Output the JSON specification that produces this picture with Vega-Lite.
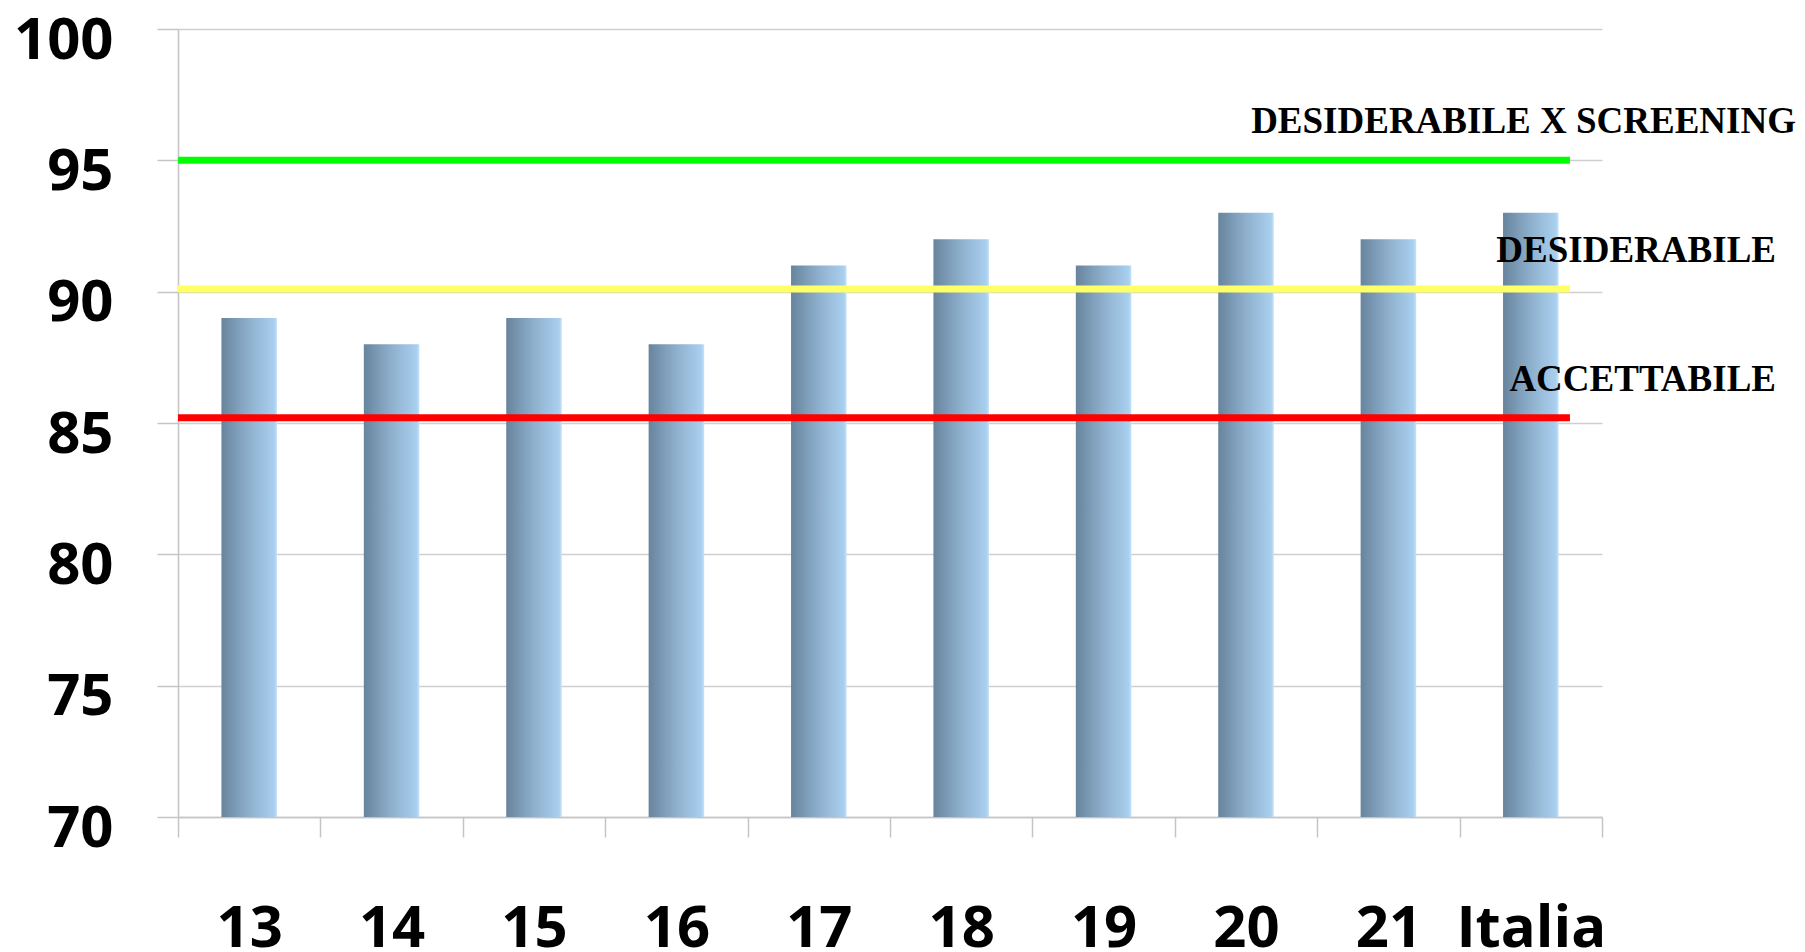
{
  "$schema": "https://vega.github.io/schema/vega-lite/v6.json",
  "autosize": {"type": "none"},
  "width": 1424,
  "height": 788,
  "padding": {"left": 178, "top": 29, "right": 203, "bottom": 135},
  "background": "white",
  "config": {"view": {"stroke": null}},
  "datasets": {
    "bars": [
      {"cat": "13", "value": 89},
      {"cat": "14", "value": 88},
      {"cat": "15", "value": 89},
      {"cat": "16", "value": 88},
      {"cat": "17", "value": 91},
      {"cat": "18", "value": 92},
      {"cat": "19", "value": 91},
      {"cat": "20", "value": 93},
      {"cat": "21", "value": 92},
      {"cat": "Italia", "value": 93}
    ],
    "thresholds": [
      {"label": "DESIDERABILE X SCREENING", "value": 95, "color": "green"},
      {"label": "DESIDERABILE", "value": 90.1, "color": "yellow"},
      {"label": "ACCETTABILE", "value": 85.2, "color": "red"}
    ]
  },
  "layer": [
    {
      "data": {"name": "bars"},
      "mark": {
        "type": "bar",
        "width": {"band": 0.39},
        "color": {
          "gradient": "linear",
          "x1": 0, "y1": 0, "x2": 1, "y2": 0,
          "stops": [
            {"offset": 0, "color": "#68849d"},
            {"offset": 0.5, "color": "#8eb0cd"},
            {"offset": 0.95, "color": "#a9cfef"},
            {"offset": 1, "color": "#c6e3f8"}
          ]
        }
      },
      "encoding": {
        "x": {
          "field": "cat", "type": "nominal", "sort": null,
          "scale": {"paddingInner": 0, "paddingOuter": 0},
          "axis": {
            "title": null,
            "labelAngle": 0,
            "labelFont": "Open Sans",
            "labelFontWeight": "bold",
            "labelFontSize": 58,
            "labelColor": "black",
            "labelPadding": 109,
            "labelBaseline": "alphabetic",
            "tickBand": "extent",
            "tickSize": 20,
            "tickColor": "#c4c4c4",
            "tickWidth": 1.5,
            "domainColor": "#c4c4c4",
            "domainWidth": 1.5,
            "grid": false
          }
        },
        "y": {
          "field": "value", "type": "quantitative",
          "scale": {"domain": [70, 100], "nice": false, "zero": false},
          "axis": {
            "title": null,
            "values": [70, 75, 80, 85, 90, 95, 100],
            "labelFont": "Open Sans",
            "labelFontWeight": "bold",
            "labelFontSize": 58,
            "labelColor": "black",
            "labelPadding": 44,
            "labelBaseline": "alphabetic",
            "labelOffset": 29,
            "tickSize": 21,
            "tickColor": "#c4c4c4",
            "tickWidth": 1.5,
            "domainColor": "#c4c4c4",
            "domainWidth": 1.5,
            "grid": true,
            "gridColor": "#cfcfcf",
            "gridWidth": 1.5
          }
        },
        "y2": {"datum": 70}
      }
    },
    {
      "data": {"name": "thresholds"},
      "mark": {"type": "rule", "strokeWidth": 7},
      "encoding": {
        "x": {"datum": "13", "bandPosition": 0},
        "x2": {"datum": "Italia", "bandPosition": 0.775},
        "y": {"field": "value", "type": "quantitative"},
        "color": {
          "field": "color", "type": "nominal",
          "scale": {"domain": ["green", "yellow", "red"], "range": ["#00ff00", "#ffff66", "#ff0000"]},
          "legend": null
        }
      }
    },
    {
      "data": {"name": "thresholds"},
      "transform": [{"filter": "datum.value >= 94"}],
      "mark": {"type": "text", "align": "right", "baseline": "alphabetic", "dx": 194, "dy": -27, "font": "Liberation Serif", "fontWeight": "bold", "fontSize": 37, "color": "black"},
      "encoding": {
        "x": {"datum": "Italia", "bandPosition": 1},
        "y": {"field": "value", "type": "quantitative"},
        "text": {"field": "label"}
      }
    },
    {
      "data": {"name": "thresholds"},
      "transform": [{"filter": "datum.value < 94"}],
      "mark": {"type": "text", "align": "right", "baseline": "alphabetic", "dx": 174, "dy": -27, "font": "Liberation Serif", "fontWeight": "bold", "fontSize": 37, "color": "black"},
      "encoding": {
        "x": {"datum": "Italia", "bandPosition": 1},
        "y": {"field": "value", "type": "quantitative"},
        "text": {"field": "label"}
      }
    }
  ]
}
